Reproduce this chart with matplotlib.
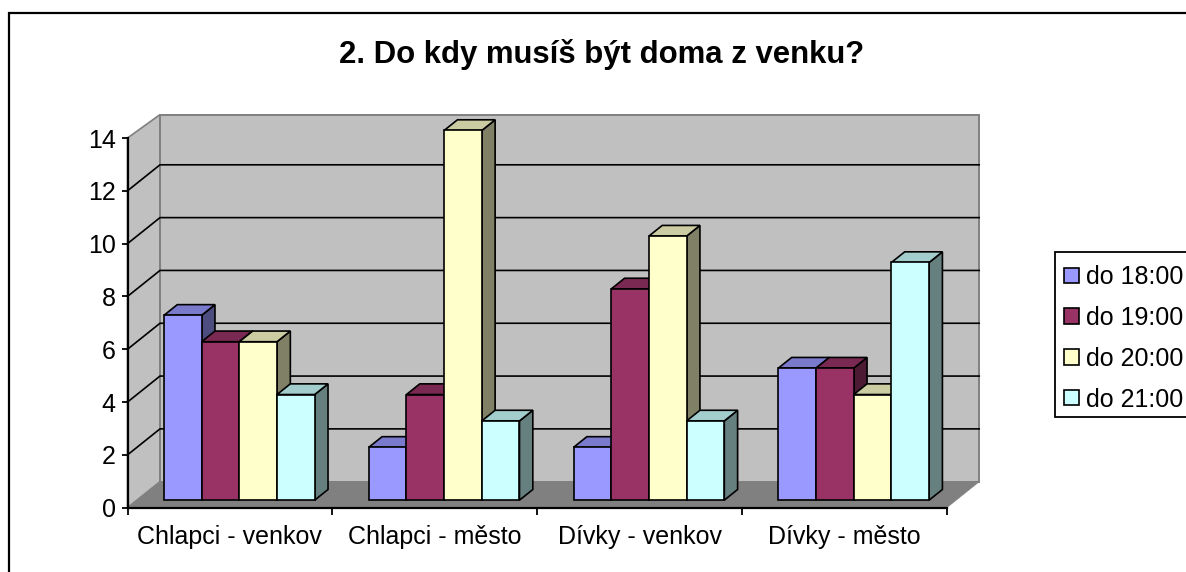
import numpy as np
import matplotlib
matplotlib.use("Agg")
import matplotlib.pyplot as plt
from matplotlib.patches import Patch, Rectangle

plt.rcParams['font.family'] = ['Liberation Sans', 'DejaVu Sans']

title = "2. Do kdy musíš být doma z venku?"
categories = ["Chlapci - venkov", "Chlapci - město", "Dívky - venkov", "Dívky - město"]
series = ["do 18:00", "do 19:00", "do 20:00", "do 21:00"]
do_18 = [7, 2, 2, 5]
do_19 = [6, 4, 8, 5]
do_20 = [6, 14, 10, 4]
do_21 = [4, 3, 3, 9]
values = [do_18, do_19, do_20, do_21]
colors = ["#9999FF", "#993366", "#FFFFCC", "#CCFFFF"]
y_ticks = [0, 2, 4, 6, 8, 10, 12, 14]

W, H = 1186, 572
fig = plt.figure(figsize=(W / 100, H / 100), dpi=100)
fig.patch.set_facecolor("white")

# outer border runs off the right and bottom of the picture
fig.add_artist(Rectangle((8.5 / W, -0.1), 1.2, 1.1 - 12.5 / H, transform=fig.transFigure,
                         fill=False, ec="black", lw=1.6))

ax = fig.add_axes([127.5 / W, 1 - 507.7 / H, 819.2 / W, 369.7 / H])
ax.set_xlim(0, 4)
ax.set_ylim(0, 14)
ax.patch.set_visible(False)

# depth of the fake 3D box, in data units
DX = 32.5 / 204.8
DY = 26 / 26.4
wall_top = 14 + 0.9 * DY


def project(x, y, d):
    return x + d * DX, y + d * DY


# walls and floor
ax.fill([0, DX, DX, 0], [0, DY, wall_top, 14], fc="#C0C0C0", ec="#808080", lw=1.2, clip_on=False, zorder=1)
ax.fill([DX, 4 + DX, 4 + DX, DX], [DY, DY, wall_top, wall_top], fc="#C0C0C0", ec="#808080", lw=1.4, clip_on=False, zorder=1)
ax.fill([0, 4, 4 + DX, DX], [0, 0, DY, DY], fc="#808080", ec="#808080", lw=0.5, clip_on=False, zorder=1.5)
for v in y_ticks[1:-1]:
    ax.plot([0, DX, 4 + DX], [v, v + DY, v + DY], color="black", lw=1.2, clip_on=False, zorder=2,
            solid_joinstyle="miter")


def shade(c, f):
    r, g, b = matplotlib.colors.to_rgb(c)
    return (r * f, g * f, b * f)


# bars, painted left to right so each front hides the previous side
d0, d1 = 0.29, 0.70
bar_w = 0.184
start = 0.132
z = 3
for i in range(len(categories)):
    for j in range(len(series)):
        v = values[j][i]
        c = colors[j]
        x0 = i + start + j * bar_w
        x1 = x0 + bar_w
        xa, ya = project(x0, 0, d0)
        xb, _ = project(x1, 0, d0)
        xc, yc = project(x1, 0, d1)
        xd, _ = project(x0, 0, d1)
        ax.fill([xb, xc, xc, xb], [ya, yc, yc + v, ya + v], fc=shade(c, 0.5), ec="black", lw=1.2,
                clip_on=False, zorder=z, joinstyle="miter")
        ax.fill([xa, xb, xc, xd], [ya + v, ya + v, yc + v, yc + v], fc=shade(c, 0.8), ec="black", lw=1.2,
                clip_on=False, zorder=z, joinstyle="miter")
        ax.bar(xa, v, width=xb - xa, bottom=ya, align="edge", color=c, edgecolor="black", lw=1.2,
               clip_on=False, zorder=z + 0.5)
        z += 1

# axes
for s in ["top", "right"]:
    ax.spines[s].set_visible(False)
for s in ["left", "bottom"]:
    ax.spines[s].set_linewidth(1.6)
    ax.spines[s].set_zorder(2.5)
ax.set_yticks(y_ticks)
ax.tick_params(axis="y", labelsize=18, length=4, width=1.3, pad=4.6)
ax.set_xticks(np.arange(5))
ax.set_xticklabels([])
ax.tick_params(axis="x", which="major", length=5, width=1.3)
ax.set_xticks(np.arange(4) + 0.5, categories, minor=True)
ax.tick_params(axis="x", which="minor", length=0, labelsize=18, pad=12.8)

fig.text(602 / W, 1 - 55 / H, title, ha="center", va="center", fontsize=22.4, fontweight="bold")

# legend box is cut by the right edge of the picture, keep it under the axes
fig.add_artist(Rectangle((1055 / W, 1 - 416.7 / H), 0.2, 164.4 / H, transform=fig.transFigure,
                         fc="white", ec="black", lw=1.3, zorder=-1))
handles = [Patch(fc=c, ec="black", lw=1.2) for c in colors]
leg = ax.legend(handles, series, loc="upper left", bbox_to_anchor=(1055 / W, 1 - 256.3 / H),
                bbox_transform=fig.transFigure, fontsize=18, frameon=False, borderpad=0.36, borderaxespad=0,
                handlelength=0.58, handleheight=0.58, handletextpad=0.3, labelspacing=0.67)
leg.set_zorder(200)

fig.savefig("out.png", dpi=100)
